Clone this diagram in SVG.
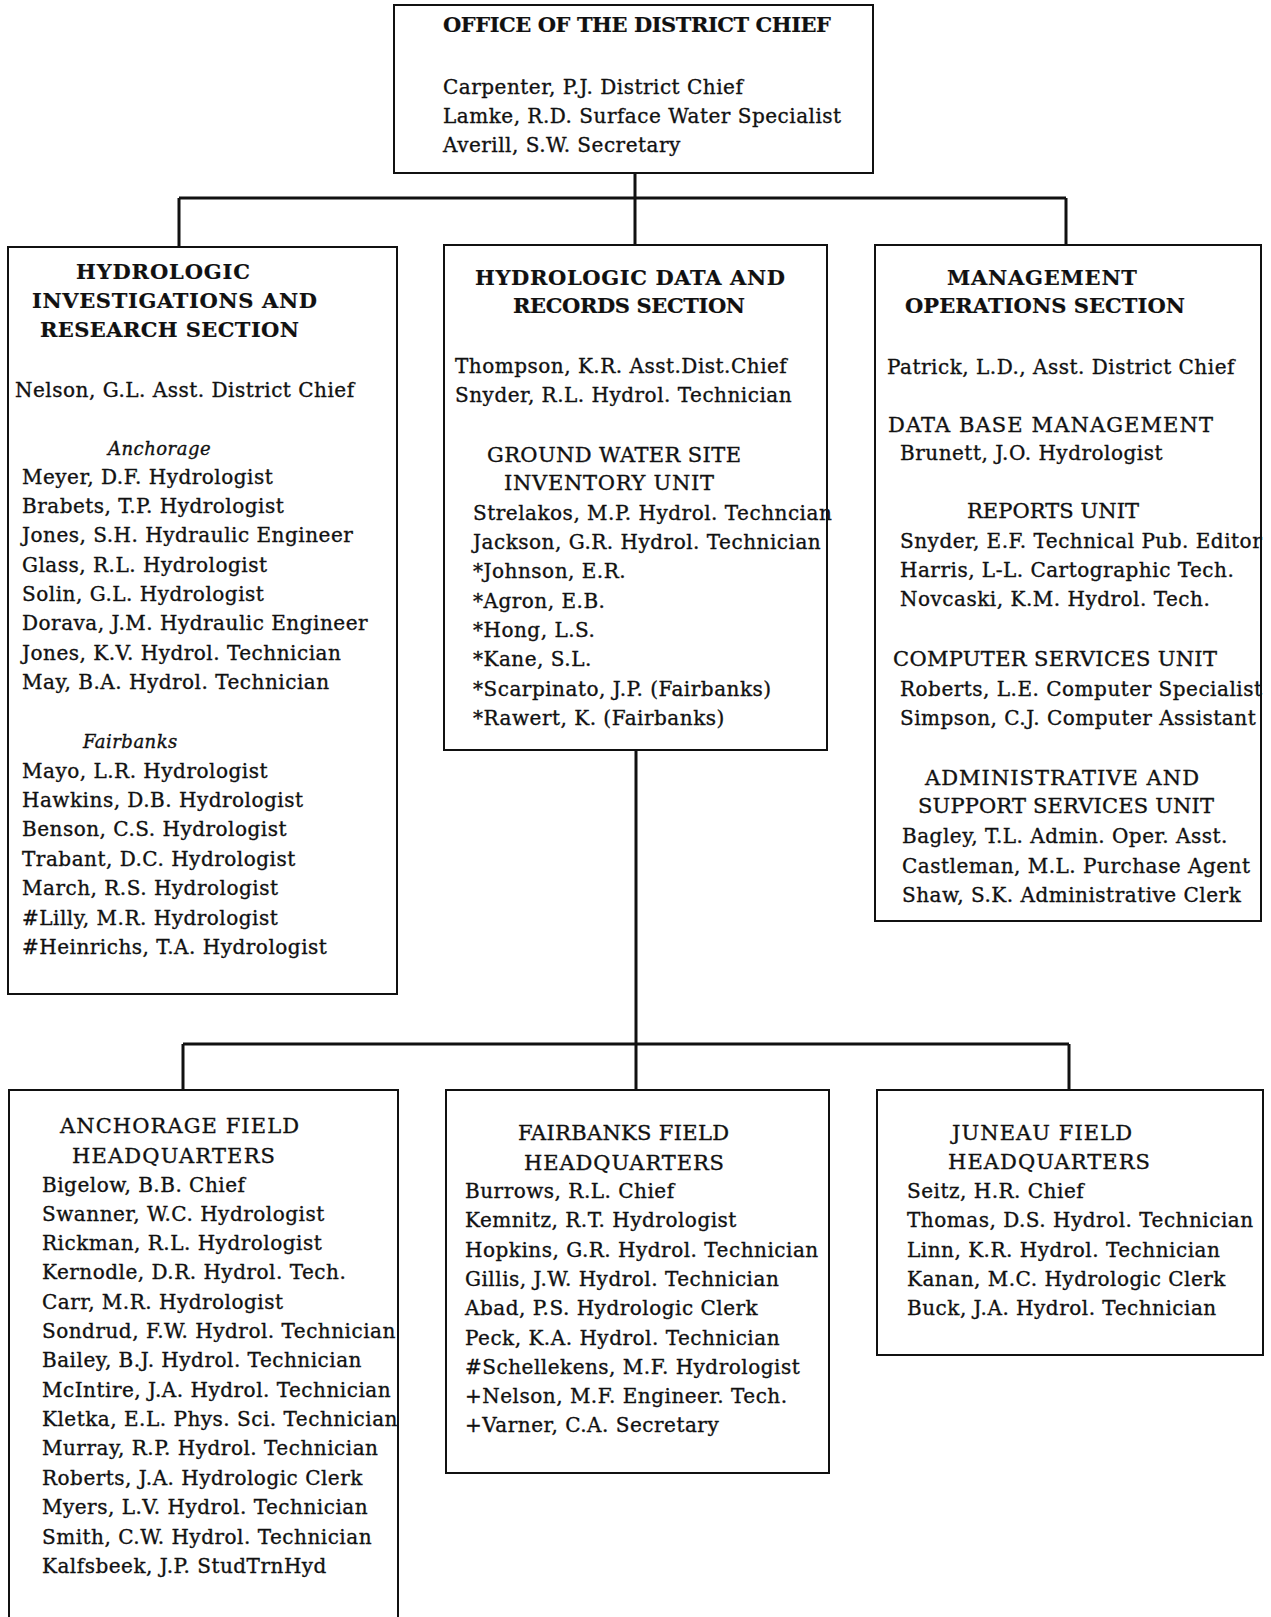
<svg xmlns="http://www.w3.org/2000/svg" width="1271" height="1617" viewBox="0 0 1271 1617">
<style>
text{font-family:"DejaVu Serif","Liberation Serif",serif;font-size:20px;fill:#111;stroke:#111;stroke-width:0.35;letter-spacing:0.5px}
.h{font-weight:bold;font-size:21px;letter-spacing:0;stroke-width:0.2}
.u{font-size:21px;letter-spacing:0}
.i{font-style:italic;font-size:18px}
.box{fill:#fff;stroke:#111;stroke-width:2}
.conn{fill:none;stroke:#111;stroke-width:3}
</style>
<rect width="1271" height="1617" fill="#fff"/>
<g id="connectors" class="conn">
<path d="M635 173V198M179 198H1066M179 198V247M635 198V245M1066 198V245"/>
<path d="M636 750V1090M183 1044H1069M183 1044V1090M1069 1044V1090"/>
</g>
<g id="office">
<rect class="box" x="394" y="5" width="479" height="168"/>
<text class="h" x="443" y="32" textLength="388">OFFICE OF THE DISTRICT CHIEF</text>
<text x="443" y="94">Carpenter, P.J. District Chief</text>
<text x="443" y="123">Lamke, R.D. Surface Water Specialist</text>
<text x="443" y="152">Averill, S.W. Secretary</text>
</g>
<g id="hydrologic-investigations">
<rect class="box" x="8" y="247" width="389" height="747"/>
<text class="h" x="76" y="279" textLength="174">HYDROLOGIC</text>
<text class="h" x="32" y="308" textLength="285">INVESTIGATIONS AND</text>
<text class="h" x="40" y="337" textLength="259">RESEARCH SECTION</text>
<text x="15" y="397">Nelson, G.L. Asst. District Chief</text>
<text class="i" x="108" y="455">Anchorage</text>
<text x="22" y="484">Meyer, D.F. Hydrologist</text>
<text x="22" y="513">Brabets, T.P. Hydrologist</text>
<text x="22" y="542">Jones, S.H. Hydraulic Engineer</text>
<text x="22" y="572">Glass, R.L. Hydrologist</text>
<text x="22" y="601">Solin, G.L. Hydrologist</text>
<text x="22" y="630">Dorava, J.M. Hydraulic Engineer</text>
<text x="22" y="660">Jones, K.V. Hydrol. Technician</text>
<text x="22" y="689">May, B.A. Hydrol. Technician</text>
<text class="i" x="83" y="748">Fairbanks</text>
<text x="22" y="778">Mayo, L.R. Hydrologist</text>
<text x="22" y="807">Hawkins, D.B. Hydrologist</text>
<text x="22" y="836">Benson, C.S. Hydrologist</text>
<text x="22" y="866">Trabant, D.C. Hydrologist</text>
<text x="22" y="895">March, R.S. Hydrologist</text>
<text x="22" y="925">#Lilly, M.R. Hydrologist</text>
<text x="22" y="954">#Heinrichs, T.A. Hydrologist</text>
</g>
<g id="hydrologic-data">
<rect class="box" x="444" y="245" width="383" height="505"/>
<text class="h" x="475" y="285" textLength="310">HYDROLOGIC DATA AND</text>
<text class="h" x="513" y="313" textLength="232">RECORDS SECTION</text>
<text x="455" y="373">Thompson, K.R. Asst.Dist.Chief</text>
<text x="455" y="402">Snyder, R.L. Hydrol. Technician</text>
<text class="u" x="487" y="462" textLength="254">GROUND WATER SITE</text>
<text class="u" x="504" y="490" textLength="210">INVENTORY UNIT</text>
<text x="473" y="520">Strelakos, M.P. Hydrol. Techncian</text>
<text x="473" y="549">Jackson, G.R. Hydrol. Technician</text>
<text x="473" y="578">*Johnson, E.R.</text>
<text x="473" y="608">*Agron, E.B.</text>
<text x="473" y="637">*Hong, L.S.</text>
<text x="473" y="666">*Kane, S.L.</text>
<text x="473" y="696">*Scarpinato, J.P. (Fairbanks)</text>
<text x="473" y="725">*Rawert, K. (Fairbanks)</text>
</g>
<g id="management">
<rect class="box" x="875" y="245" width="386" height="676"/>
<text class="h" x="947" y="285" textLength="190">MANAGEMENT</text>
<text class="h" x="905" y="313" textLength="280">OPERATIONS SECTION</text>
<text x="887" y="374">Patrick, L.D., Asst. District Chief</text>
<text class="u" x="888" y="432" textLength="325">DATA BASE MANAGEMENT</text>
<text x="900" y="460">Brunett, J.O. Hydrologist</text>
<text class="u" x="967" y="518" textLength="172">REPORTS UNIT</text>
<text x="900" y="548">Snyder, E.F. Technical Pub. Editor</text>
<text x="900" y="577">Harris, L-L. Cartographic Tech.</text>
<text x="900" y="606">Novcaski, K.M. Hydrol. Tech.</text>
<text class="u" x="893" y="666" textLength="324">COMPUTER SERVICES UNIT</text>
<text x="900" y="696">Roberts, L.E. Computer Specialist</text>
<text x="900" y="725">Simpson, C.J. Computer Assistant</text>
<text class="u" x="925" y="785" textLength="274">ADMINISTRATIVE AND</text>
<text class="u" x="918" y="813" textLength="296">SUPPORT SERVICES UNIT</text>
<text x="902" y="843">Bagley, T.L. Admin. Oper. Asst.</text>
<text x="902" y="873">Castleman, M.L. Purchase Agent</text>
<text x="902" y="902">Shaw, S.K. Administrative Clerk</text>
</g>
<g id="anchorage-field">
<rect class="box" x="9" y="1090" width="389" height="540"/>
<text class="u" x="60" y="1133" textLength="239">ANCHORAGE FIELD</text>
<text class="u" x="72" y="1163" textLength="203">HEADQUARTERS</text>
<text x="42" y="1192">Bigelow, B.B. Chief</text>
<text x="42" y="1221">Swanner, W.C. Hydrologist</text>
<text x="42" y="1250">Rickman, R.L. Hydrologist</text>
<text x="42" y="1279">Kernodle, D.R. Hydrol. Tech.</text>
<text x="42" y="1309">Carr, M.R. Hydrologist</text>
<text x="42" y="1338">Sondrud, F.W. Hydrol. Technician</text>
<text x="42" y="1367">Bailey, B.J. Hydrol. Technician</text>
<text x="42" y="1397">McIntire, J.A. Hydrol. Technician</text>
<text x="42" y="1426">Kletka, E.L. Phys. Sci. Technician</text>
<text x="42" y="1455">Murray, R.P. Hydrol. Technician</text>
<text x="42" y="1485">Roberts, J.A. Hydrologic Clerk</text>
<text x="42" y="1514">Myers, L.V. Hydrol. Technician</text>
<text x="42" y="1544">Smith, C.W. Hydrol. Technician</text>
<text x="42" y="1573">Kalfsbeek, J.P. StudTrnHyd</text>
</g>
<g id="fairbanks-field">
<rect class="box" x="446" y="1090" width="383" height="383"/>
<text class="u" x="518" y="1140" textLength="211">FAIRBANKS FIELD</text>
<text class="u" x="524" y="1170" textLength="200">HEADQUARTERS</text>
<text x="465" y="1198">Burrows, R.L. Chief</text>
<text x="465" y="1227">Kemnitz, R.T. Hydrologist</text>
<text x="465" y="1257">Hopkins, G.R. Hydrol. Technician</text>
<text x="465" y="1286">Gillis, J.W. Hydrol. Technician</text>
<text x="465" y="1315">Abad, P.S. Hydrologic Clerk</text>
<text x="465" y="1345">Peck, K.A. Hydrol. Technician</text>
<text x="465" y="1374">#Schellekens, M.F. Hydrologist</text>
<text x="465" y="1403">+Nelson, M.F. Engineer. Tech.</text>
<text x="465" y="1432">+Varner, C.A. Secretary</text>
</g>
<g id="juneau-field">
<rect class="box" x="877" y="1090" width="386" height="265"/>
<text class="u" x="952" y="1140" textLength="180">JUNEAU FIELD</text>
<text class="u" x="948" y="1169" textLength="202">HEADQUARTERS</text>
<text x="907" y="1198">Seitz, H.R. Chief</text>
<text x="907" y="1227">Thomas, D.S. Hydrol. Technician</text>
<text x="907" y="1257">Linn, K.R. Hydrol. Technician</text>
<text x="907" y="1286">Kanan, M.C. Hydrologic Clerk</text>
<text x="907" y="1315">Buck, J.A. Hydrol. Technician</text>
</g>
</svg>
